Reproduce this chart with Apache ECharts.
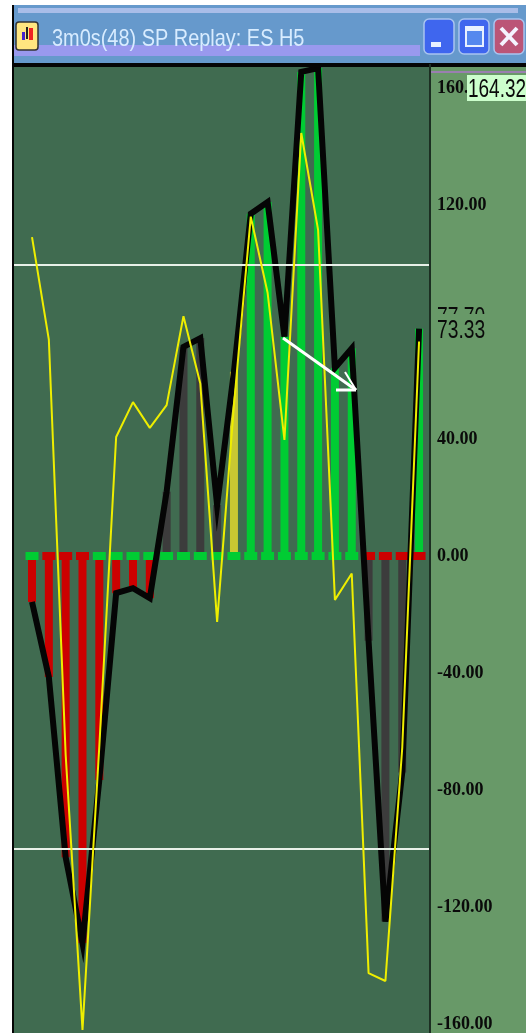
<!DOCTYPE html>
<html>
<head>
<meta charset="utf-8">
<title>3m0s(48) SP Replay: ES H5</title>
<script src="https://cdn.jsdelivr.net/npm/echarts@6/dist/echarts.min.js"></script>
<style>
  html, body { margin: 0; padding: 0; background: #fff; }
  #chart { width: 526px; height: 1033px; }
</style>
</head>
<body>
<div id="chart"></div>
<script>
// oscillator, one value per 3 min bar
const bars = [0, 1, 2, 3, 4, 5, 6, 7, 8, 9, 10, 11, 12, 13, 14, 15, 16, 17, 18, 19, 20, 21, 22, 23];
const thick = [-15.7, -41.4, -103, -132.3, -76.6, -12.7, -11, -14.4, 22, 71.5, 74.5, 17.4, 63, 117, 121, 75, 165.5, 166.8, 64.3, 71, -29, -125, -74, 77.7];
const thin = [109, 74, -68, -162, -65, 40.7, 52.6, 43.8, 51.6, 82, 59, -22.5, 51.6, 116, 90, 39.7, 144.6, 111.5, -15, -6, -142.6, -145.3, -65.6, 73.33];
const barState = ['down', 'down', 'down', 'down', 'down', 'down', 'down', 'down', 'grey', 'grey', 'grey', 'grey', 'warn', 'up', 'up', 'up', 'up', 'up', 'up', 'up', 'grey', 'grey', 'grey', 'up'];
const zeroState = ['up', 'down', 'down', 'down', 'up', 'up', 'up', 'up', 'up', 'up', 'up', 'up', 'up', 'up', 'up', 'up', 'up', 'up', 'up', 'up', 'down', 'down', 'down', 'down'];
const yTicks = [160, 120, 40, 0, -40, -80, -120, -160];
const levels = [99.6, -100];

const stateColor = { up: '#00cc33', down: '#cc0000', grey: '#3c3c3c', warn: '#c8c832' };
const PLOT = '#406b50', PANEL = '#689968', WHITE = '#ffffff';

function rect(x, y, w, h, fill, extra) {
  return Object.assign({ type: 'rect', shape: { x: x, y: y, width: w, height: h }, style: { fill: fill }, silent: true }, extra || {});
}
function line(points, width) {
  return { type: 'polyline', z: 100, silent: true, shape: { points: points }, style: { stroke: WHITE, lineWidth: width, fill: null } };
}
// the screenshot text is squeezed sideways, so scale it the same way
function label(x, y, text, size, scaleX, fill, z) {
  return {
    type: 'text', z: z || 100, silent: true,
    x: x, y: y, scaleX: scaleX, originX: 0, originY: 0,
    style: { x: 0, y: 0, text: text, font: size + 'px "Liberation Sans"', fill: fill || '#0a0a0a', textVerticalAlign: 'middle' }
  };
}
function button(x, fill) {
  return rect(x, 19, 30, 35, fill, { z: 90, shape: { x: x, y: 19, width: 30, height: 35, r: 5 }, style: { fill: fill, stroke: '#a9c4f0', lineWidth: 1.5 } });
}

const chrome = [
  // panel and window frame
  rect(430, 64, 96, 969, PANEL, { z: -1 }),
  rect(430, 71, 96, 2, '#9a7fb0', { z: -1 }),
  rect(12, 5, 514, 59, '#6699cc', { z: 90 }),
  rect(18, 8, 500, 5, '#a9bde8', { z: 90 }),
  rect(14, 45, 406, 11, '#9999ee', { z: 90 }),
  rect(12, 63, 518, 4, '#050505', { z: 91 }),
  rect(12, 5, 2, 1028, '#050505', { z: 91 }),
  rect(429, 64, 2, 969, '#1c2e22', { z: 91 }),
  label(52, 39, '3m0s(48) SP Replay: ES H5', 24, 0.83, '#d8ecff', 92),
  // window icon
  rect(16, 22, 22, 28, '#ffe680', { z: 92, shape: { x: 16, y: 22, width: 22, height: 28, r: 3 }, style: { fill: '#ffe680', stroke: '#333', lineWidth: 1.5 } }),
  rect(22, 32, 3, 8, '#4422cc', { z: 93 }),
  rect(26, 27, 2, 12, '#222', { z: 93 }),
  rect(29, 28, 4, 12, '#ee2222', { z: 93 }),
  // window buttons
  button(424, '#3f66ee'),
  rect(431, 42, 10, 5, '#e8f0ff', { z: 92 }),
  button(459, '#3f66ee'),
  rect(466, 27, 17, 19, '#5588ee', { z: 92, style: { fill: '#5588ee', stroke: '#e8f0ff', lineWidth: 2 } }),
  rect(466, 27, 17, 4, '#e8f0ff', { z: 92 }),
  button(494, '#bb5577'),
  { type: 'polyline', z: 92, silent: true, shape: { points: [[501, 28], [517, 45]] }, style: { stroke: '#f4f4ff', lineWidth: 4, fill: null } },
  { type: 'polyline', z: 92, silent: true, shape: { points: [[517, 28], [501, 45]] }, style: { stroke: '#f4f4ff', lineWidth: 4, fill: null } },
  // arrow drawn on the chart
  line([[283, 338], [356, 390]], 3),
  line([[336, 390], [356, 390]], 3),
  line([[345, 372], [356, 390]], 2),
  // last value boxes on the scale
  rect(467, 75, 59, 26, '#ccffcc', { z: 95 }),
  label(468, 90, '164.32', 26, 0.73),
  label(437, 318, '77.70', 25, 0.77, '#0a0a0a', 94),
  rect(432, 314, 60, 32, PANEL, { z: 95 }),
  label(437, 331, '73.33', 25, 0.77)
];

const chart = echarts.init(document.getElementById('chart'), null, { renderer: 'canvas' });

chart.setOption({
  animation: false,
  grid: { left: 14, top: 67, width: 416, height: 966, show: true, backgroundColor: PLOT, borderWidth: 0 },
  xAxis: { type: 'value', min: -1.07, max: 23.65, show: false, splitLine: { show: false } },
  yAxis: {
    type: 'value',
    position: 'right',
    min: -163.08,
    max: 167.18,
    axisLine: { show: false },
    axisTick: { show: false },
    splitLine: { show: false },
    axisLabel: {
      customValues: yTicks,
      margin: 7,
      color: '#0a0a0a',
      fontFamily: 'Liberation Serif',
      fontWeight: 'bold',
      fontSize: 18,
      padding: [6, 0, 0, 0],
      formatter: function (v) { return v.toFixed(2); }
    }
  },
  graphic: chrome,
  series: [
    {
      type: 'bar',
      barWidth: 8,
      silent: true,
      data: bars.map(function (b, i) {
        return { value: [b, thick[i]], itemStyle: { color: stateColor[barState[i]] } };
      }),
      z: 2
    },
    {
      type: 'scatter',
      symbol: 'rect',
      symbolSize: [13, 8],
      silent: true,
      data: bars.map(function (b, i) {
        return { value: [b, 0], itemStyle: { color: stateColor[zeroState[i]], opacity: 1 } };
      }),
      z: 3
    },
    {
      type: 'line',
      symbol: 'none',
      silent: true,
      lineStyle: { color: '#050505', width: 6, join: 'miter' },
      data: bars.map(function (b, i) { return [b, thick[i]]; }),
      z: 4
    },
    {
      type: 'line',
      symbol: 'none',
      silent: true,
      lineStyle: { color: '#eeee00', width: 2 },
      data: bars.map(function (b, i) { return [b, thin[i]]; }),
      z: 5,
      markLine: {
        silent: true,
        symbol: 'none',
        label: { show: false },
        lineStyle: { color: '#e8f0e8', width: 2, type: 'solid' },
        data: levels.map(function (v) { return { yAxis: v }; })
      }
    }
  ]
});

window.addEventListener('resize', chart.resize);
</script>
</body>
</html>
